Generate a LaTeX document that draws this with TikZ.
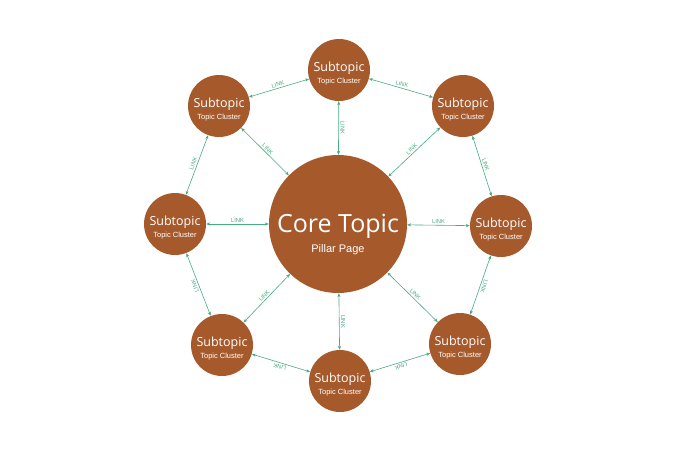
\documentclass[tikz,border=0pt]{standalone}
\usepackage{fontspec}
\setmainfont{Open Sans}
\newfontfamily\arialish{Liberation Sans}
\usetikzlibrary{arrows.meta}

\definecolor{rust}{RGB}{166,90,44}
\definecolor{linkgreen}{RGB}{72,170,130}

\tikzset{
	hub/.style={circle, fill=rust, minimum size=138pt, inner sep=0pt},
	cluster/.style={circle, fill=rust, minimum size=62pt, inner sep=0pt},
	bigtitle/.style={text=white, inner sep=0pt, font=\fontsize{25}{28}\selectfont},
	subtitle/.style={text=white, inner sep=0pt, font=\fontsize{12.5}{14}\selectfont},
	subnote/.style={text=white, inner sep=0pt, font=\arialish\fontsize{7.5}{9}\selectfont},
	link/.style={draw=linkgreen, line width=0.6pt, {Stealth[length=4pt,width=3.2pt]}-{Stealth[length=4pt,width=3.2pt]}},
	linktxt/.style={midway, sloped, above, allow upside down, inner sep=1.6pt, text=linkgreen, font=\arialish\fontsize{5.8}{7}\selectfont},
}

\begin{document}
\begin{tikzpicture}[x=1pt, y=-1pt]
	\useasboundingbox (0,0) rectangle (700,450);
	% pillar page in the middle
	\node[hub] (core) at (338,224) {};
	\node[bigtitle] (core-title) at (338,226) {Core Topic};
	\node[subnote, font=\arialish\fontsize{11}{13}\selectfont] (core-note) at (338,250) {Pillar Page};
	% ring of topic clusters, clockwise from the top
	\foreach \n/\x/\y in {t/339/70, tr/463/106, r/501/226, br/460/344, b/340/381, bl/222/345, l/175/224, tl/219/106} {
		\node[cluster] (\n) at (\x,\y) {};
		\node[subtitle] (\n-title) at (\x,\y-2) {Subtopic};
		\node[subnote] (\n-note) at (\x,\y+11.5) {Topic Cluster};
	}
	% links round the ring
	\foreach \a/\b in {tl/t, t/tr, tr/r, r/br, br/b, b/bl, bl/l, l/tl}
		\draw[link] (\a) -- node[linktxt] {LINK} (\b);
	% links to the pillar page
	\foreach \a/\b in {tl/core, t/core, core/tr, l/core, core/r, bl/core, core/b, core/br}
		\draw[link] (\a) -- node[linktxt] {LINK} (\b);
\end{tikzpicture}
\end{document}
